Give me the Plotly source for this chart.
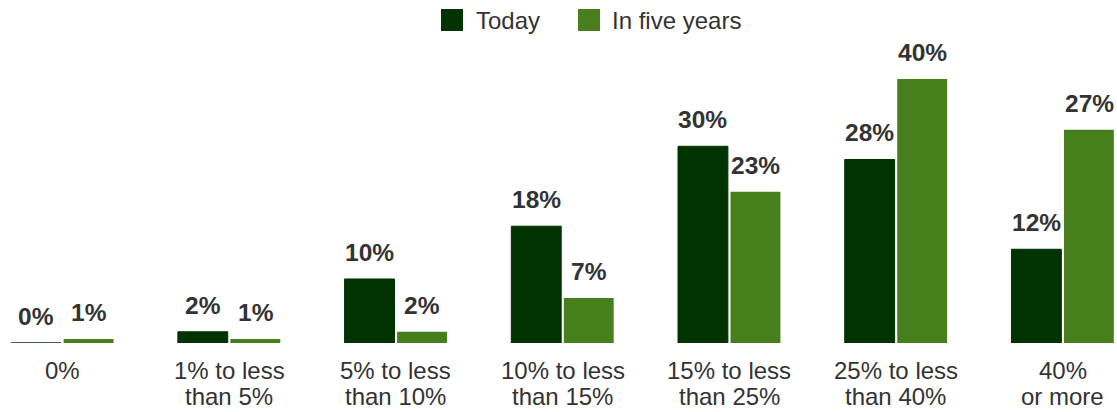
import plotly.graph_objects as go

categories = ["0%", "1% to less<br>than 5%", "5% to less<br>than 10%", "10% to less<br>than 15%",
              "15% to less<br>than 25%", "25% to less<br>than 40%", "40%<br>or more"]
# printed value labels
today_labels = ["0%", "2%", "10%", "18%", "30%", "28%", "12%"]
five_years_labels = ["1%", "1%", "2%", "7%", "23%", "40%", "27%"]
# bar heights as drawn in the picture (last group is drawn taller than its labels)
today = [0, 1.7, 9.7, 17.7, 29.8, 27.8, 14.2]
five_years = [0.6, 0.6, 1.7, 6.8, 22.9, 40, 32.3]
series_names = ["Today", "In five years"]

C_TODAY = "#013300"
C_FIVE = "#487f1d"
TEXT = "#333333"
FONT = "Liberation Sans, Arial, sans-serif"

xs = list(range(len(categories)))
fig = go.Figure()
fig.add_bar(x=xs, y=today, marker_color=C_TODAY, showlegend=False,
            marker_line_width=1, marker_line_color=C_TODAY, name=series_names[0])
fig.add_bar(x=xs, y=five_years, marker_color=C_FIVE, showlegend=False,
            marker_line_width=0, name=series_names[1])

ann = []
# value labels
for i in xs:
    for vals, labs, shift in ((today, today_labels, -26.5), (five_years, five_years_labels, 26.5)):
        ann.append(dict(x=i, y=vals[i], xref="x", yref="y", text=labs[i],
                        showarrow=False, yanchor="bottom", xshift=shift, yshift=11,
                        font=dict(family=FONT, size=24.5, color=TEXT, weight="bold")))
# category labels (one annotation per line for tighter line spacing)
for i, c in enumerate(categories):
    for k, line in enumerate(c.split("<br>")):
        ann.append(dict(x=i, y=0, xref="x", yref="y", text=line, showarrow=False,
                        yanchor="middle", yshift=-27 - 26 * k,
                        font=dict(family=FONT, size=24, color=TEXT)))

# custom legend (larger swatches)
PW, PH, PL, PB = 1105, 303, 10, 343
def px(x):
    return (x - PL) / PW
def py(y):
    return (PB - y) / PH
shapes = []
for name, col, sx, tx in ((series_names[0], C_TODAY, 441, 474), (series_names[1], C_FIVE, 578, 610)):
    shapes.append(dict(type="rect", xref="paper", yref="paper", x0=px(sx), x1=px(sx + 22),
                       y0=py(31), y1=py(9), fillcolor=col, line_width=0))
    ann.append(dict(x=px(tx), y=py(20.5), xref="paper", yref="paper", text=name, showarrow=False,
                    xanchor="left", yanchor="middle",
                    font=dict(family=FONT, size=24, color=TEXT)))

fig.update_layout(
    width=1117, height=412,
    margin=dict(l=10, r=2, t=40, b=69),
    plot_bgcolor="white", paper_bgcolor="white",
    barmode="group", bargap=0.37, bargroupgap=0.05,
    annotations=ann, shapes=shapes, showlegend=False,
    xaxis=dict(range=[-0.314, 6.314], showgrid=False, showline=False, automargin=False,
               showticklabels=False, zeroline=False),
    yaxis=dict(range=[0, 45.9], visible=False, automargin=False),
    font=dict(family=FONT),
)
fig.write_html("out.html", config={"displayModeBar": False},
               post_script="document.body.style.margin='0';")
